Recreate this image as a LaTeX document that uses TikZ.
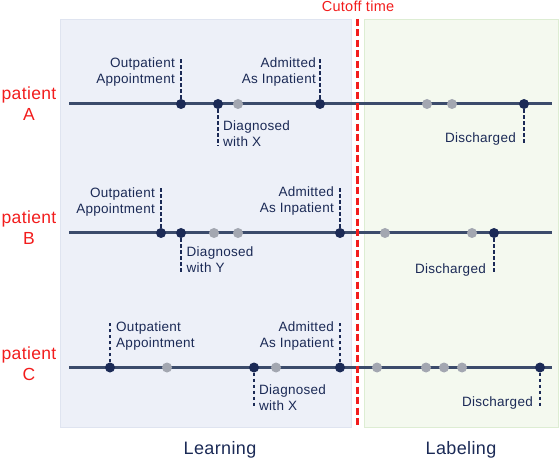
\documentclass[tikz,border=0pt]{standalone}
\usepackage{fontspec}
\setmainfont{Liberation Sans}[LetterSpace=2]
\definecolor{navy}{HTML}{1B2A56}
\definecolor{tlcol}{HTML}{3B4B6B}
\definecolor{dotgray}{HTML}{A3A7B1}
\definecolor{cutred}{HTML}{F21C1C}
\definecolor{learnfill}{HTML}{EDF0F8}
\definecolor{learnedge}{HTML}{DFE4F0}
\definecolor{labfill}{HTML}{F4F9EF}
\definecolor{labedge}{HTML}{DDEDD3}
\tikzset{
	ev/.style={circle, fill=navy, minimum size=10bp, inner sep=0pt},
	evgray/.style={circle, fill=dotgray, minimum size=10bp, inner sep=0pt},
	tline/.style={line width=3bp, color=tlcol},
	lead/.style={line width=2bp, color=navy, dash pattern=on 3.5bp off 2.5bp},
	lab/.style={inner sep=0pt, text=navy, font=\fontsize{13.5bp}{16bp}\selectfont},
	lableft/.style={lab, align=left, anchor=north west},
	labright/.style={lab, align=right, anchor=north east},
	pat/.style={text=cutred, align=center, inner sep=0pt, font=\fontsize{17.5bp}{21bp}\selectfont},
	phase/.style={text=navy, inner sep=0pt, anchor=base, font=\fontsize{18bp}{21bp}\selectfont}
}

\begin{document}
\begin{tikzpicture}[x=1bp, y=-1bp]
		%%%%% START %%%%%
		\useasboundingbox (0, 0) rectangle (560, 460);
		
		\draw[fill=learnfill, draw=learnedge, line width=1bp] (60, 20) rectangle (351, 427);
		\draw[fill=labfill, draw=labedge, line width=1bp] (364, 20) rectangle (558, 427);
		
		\node[phase] (learn) at (220, 454) {Learning};
		\node[phase] (label) at (461, 454) {Labeling};
		
		%% patient A
		\node[pat] (patA) at (29, 104) {patient\\A};
		\coordinate (aS) at (69, 104);
		\coordinate (aE) at (552, 104);
		\draw[tline] (aS) -- (aE);
		\node[ev] (a1) at (181, 104) {};
		\node[ev] (a2) at (218, 104) {};
		\node[evgray] (a3) at (238, 104) {};
		\node[ev] (a4) at (320, 104) {};
		\node[evgray] (a5) at (427, 104) {};
		\node[evgray] (a6) at (452, 104) {};
		\node[ev] (a7) at (524, 104) {};
		\coordinate (a1t) at (181, 57);
		\coordinate (a2t) at (218, 146);
		\coordinate (a4t) at (320, 57);
		\coordinate (a7t) at (524, 145);
		\draw[lead] (a1) -- (a1t);
		\draw[lead] (a2) -- (a2t);
		\draw[lead] (a4) -- (a4t);
		\draw[lead] (a7) -- (a7t);
		\node[labright] (outA) at (175, 57.5) {Outpatient\\Appointment};
		\node[lableft] (diagA) at (223, 120.5) {Diagnosed\\with X};
		\node[labright] (admA) at (316, 57.5) {Admitted\\As Inpatient};
		\node[labright] (disA) at (516, 132.5) {Discharged};
		
		%% patient B
		\node[pat] (patB) at (29, 228) {patient\\B};
		\coordinate (bS) at (69, 233);
		\coordinate (bE) at (552, 233);
		\draw[tline] (bS) -- (bE);
		\node[ev] (b1) at (161, 233) {};
		\node[ev] (b2) at (181, 233) {};
		\node[evgray] (b3) at (214, 233) {};
		\node[evgray] (b4) at (238, 233) {};
		\node[ev] (b5) at (340, 233) {};
		\node[evgray] (b6) at (385, 233) {};
		\node[evgray] (b7) at (472, 233) {};
		\node[ev] (b8) at (494, 233) {};
		\coordinate (b1t) at (161, 186.5);
		\coordinate (b2t) at (181, 273.5);
		\coordinate (b5t) at (340, 186.5);
		\coordinate (b8t) at (494, 273.5);
		\draw[lead] (b1) -- (b1t);
		\draw[lead] (b2) -- (b2t);
		\draw[lead] (b5) -- (b5t);
		\draw[lead] (b8) -- (b8t);
		\node[labright] (outB) at (155, 187.5) {Outpatient\\Appointment};
		\node[lableft] (diagB) at (186.5, 247) {Diagnosed\\with Y};
		\node[labright] (admB) at (334, 187) {Admitted\\As Inpatient};
		\node[labright] (disB) at (486, 264) {Discharged};
		
		%% patient C
		\node[pat] (patC) at (29, 364) {patient\\C};
		\coordinate (cS) at (69, 367.5);
		\coordinate (cE) at (552, 367.5);
		\draw[tline] (cS) -- (cE);
		\node[ev] (c1) at (110, 367.5) {};
		\node[evgray] (c2) at (167, 367.5) {};
		\node[ev] (c3) at (254, 367.5) {};
		\node[evgray] (c4) at (276, 367.5) {};
		\node[ev] (c5) at (340, 367.5) {};
		\node[evgray] (c6) at (377, 367.5) {};
		\node[evgray] (c7) at (426, 367.5) {};
		\node[evgray] (c8) at (444, 367.5) {};
		\node[evgray] (c9) at (462, 367.5) {};
		\node[ev] (c10) at (540, 367.5) {};
		\coordinate (c1t) at (110, 320.5);
		\coordinate (c3t) at (254, 408);
		\coordinate (c5t) at (340, 320.5);
		\coordinate (c10t) at (540, 408);
		\draw[lead] (c1) -- (c1t);
		\draw[lead] (c3) -- (c3t);
		\draw[lead] (c5) -- (c5t);
		\draw[lead] (c10) -- (c10t);
		\node[lableft] (outC) at (116, 321.5) {Outpatient\\Appointment};
		\node[lableft] (diagC) at (259, 385) {Diagnosed\\with X};
		\node[labright] (admC) at (334, 321.5) {Admitted\\As Inpatient};
		\node[labright] (disC) at (533, 397) {Discharged};
		
		%% cutoff
		\node[text=cutred, inner sep=0pt, anchor=base, font=\fontsize{14.5bp}{16bp}\selectfont] (cut) at (358, 12) {Cutoff time};
		\coordinate (cutT) at (357, 19);
		\coordinate (cutB) at (357, 427);
		\draw[line width=3bp, color=cutred, dash pattern=on 7bp off 3.5bp] (cutT) -- (cutB);
		
		%%%%% END %%%%%
\end{tikzpicture}
\end{document}
